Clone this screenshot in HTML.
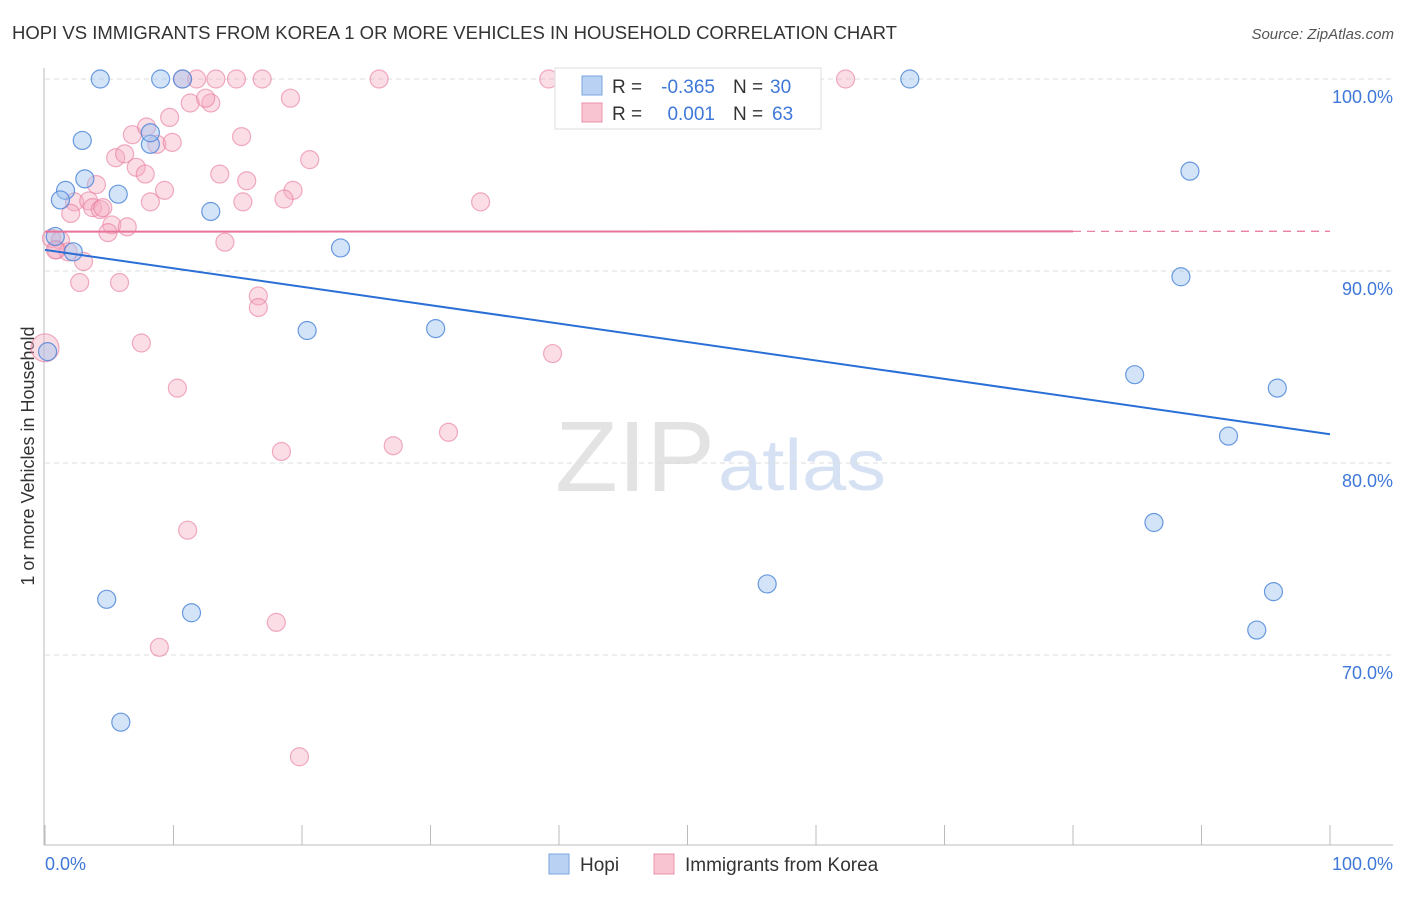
<!DOCTYPE html>
<html><head><meta charset="utf-8"><style>
body{margin:0;background:#fff;font-family:"Liberation Sans",sans-serif}
svg text{font-family:"Liberation Sans",sans-serif}
</style></head><body>
<svg id="c" width="1406" height="892">
<text x="12" y="39" font-size="18" fill="#333" textLength="885" lengthAdjust="spacingAndGlyphs">HOPI VS IMMIGRANTS FROM KOREA 1 OR MORE VEHICLES IN HOUSEHOLD CORRELATION CHART</text>
<text x="1394" y="39" font-size="15" fill="#555" font-style="italic" text-anchor="end">Source: ZipAtlas.com</text>
<text x="555" y="491" font-size="100" fill="#e3e3e3" textLength="160" lengthAdjust="spacingAndGlyphs" font-family="Liberation Serif">ZIP</text>
<text x="718" y="490" font-size="72" fill="#d6e2f3" textLength="168" lengthAdjust="spacingAndGlyphs">atlas</text>
<text transform="translate(34,456) rotate(-90)" font-size="18" fill="#333" text-anchor="middle">1 or more Vehicles in Household</text>
<g id="grid"></g><g id="pts"></g><g id="lines"></g>
<g>
<rect x="555" y="68" width="266" height="61" fill="#fff" stroke="#ddd"/>
<rect x="582" y="76" width="20" height="19" fill="#b9d2f3" stroke="#7aa3dd"/>
<rect x="582" y="103" width="20" height="19" fill="#f9c4d2" stroke="#ea8fab"/>
<text x="612" y="93" font-size="19" fill="#333">R =</text>
<text x="715" y="93" font-size="19" fill="#3f78d8" text-anchor="end">-0.365</text>
<text x="733" y="93" font-size="19" fill="#333">N =</text>
<text x="770" y="93" font-size="19" fill="#3f78d8">30</text>
<text x="612" y="120" font-size="19" fill="#333">R =</text>
<text x="715" y="120" font-size="19" fill="#3f78d8" text-anchor="end">0.001</text>
<text x="733" y="120" font-size="19" fill="#333">N =</text>
<text x="772" y="120" font-size="19" fill="#3f78d8">63</text>
</g>
<g>
<rect x="549" y="854" width="20" height="20" fill="#b9d2f3" stroke="#7aa3dd"/>
<text x="580" y="871" font-size="19" fill="#333">Hopi</text>
<rect x="654" y="854" width="20" height="20" fill="#f9c4d2" stroke="#ea8fab"/>
<text x="685" y="871" font-size="19" fill="#333">Immigrants from Korea</text>
</g>
<text x="45" y="870" font-size="18" fill="#3f78d8">0.0%</text>
<text x="1393" y="870" font-size="18" fill="#3f78d8" text-anchor="end">100.0%</text>
</svg>
<script>
const yTicks=[100,90,80,70];
const xTicks=[0,10,20,30,40,50,60,70,80,90,100];
const hopiX=[4.3,9.0,10.7,67.3,2.9,8.2,8.2,3.1,1.6,1.2,5.7,12.9,0.8,2.2,0.2,23.0,20.4,30.4,89.1,88.4,84.8,95.9,92.1,86.3,56.2,95.6,94.3,4.8,11.4,5.9];
const hopiY=[100,100,100,100,96.8,96.6,97.2,94.8,94.2,93.7,94.0,93.1,91.8,91.0,85.8,91.2,86.9,87.0,95.2,89.7,84.6,83.9,81.4,76.9,73.7,73.3,71.3,72.9,72.2,66.5];
const koreaX=[10.7,11.8,13.3,14.9,16.9,26.0,39.2,62.3,11.3,12.9,12.5,19.1,9.7,15.3,6.8,7.9,8.7,9.9,5.5,6.2,7.1,7.8,9.3,8.2,13.6,15.7,15.4,20.6,19.3,18.6,4.0,2.3,3.4,3.7,4.3,4.5,2.0,5.2,6.4,4.9,33.9,14.0,0.5,1.2,0.9,1.8,3.0,2.7,5.8,16.6,16.6,0,7.5,39.5,10.3,31.4,27.1,18.4,11.1,18.0,8.9,19.8,0.8];
const koreaY=[100,100,100,100,100,100,100,100,98.75,98.75,99.0,99.0,98.0,97.0,97.1,97.5,96.6,96.7,95.9,96.1,95.4,95.05,94.2,93.6,95.05,94.7,93.6,95.8,94.2,93.75,94.5,93.6,93.65,93.3,93.2,93.3,93.0,92.4,92.3,92.0,93.6,91.5,91.7,91.6,91.1,91.0,90.5,89.4,89.4,88.7,88.1,86.0,86.25,85.7,83.9,81.6,80.9,80.6,76.5,71.7,70.4,64.7,91.1];
const hopiTrend=[91.1,81.5];
const koreaTrend=[92.05,92.07];
const X=v=>45+v*12.85, Y=v=>79+(100-v)*19.2;
const NS='http://www.w3.org/2000/svg';
function mk(t,a,p){const e=document.createElementNS(NS,t);for(const k in a)e.setAttribute(k,a[k]);p.appendChild(e);return e;}
const g=document.getElementById('grid');
yTicks.forEach(t=>{
const l=mk('line',{x1:45,x2:1393,y1:Y(t),y2:Y(t),stroke:'#ddd','stroke-dasharray':'5,4'},g);


const tx=mk('text',{x:1393,y:Y(t)+24,'font-size':18,fill:'#3f78d8','text-anchor':'end'},g);
tx.textContent=t.toFixed(1)+'%';


});
mk('line',{x1:44,x2:44,y1:68,y2:845,stroke:'#bbb'},g);
mk('line',{x1:44,x2:1393,y1:845,y2:845,stroke:'#bbb'},g);
xTicks.forEach(t=>{
const l=mk('line',{x1:X(t),x2:X(t),y1:825,y2:845,stroke:'#bbb'},g);


});
const p=document.getElementById('pts');
koreaX.forEach((v,i)=>{
const big=(v===0);
const c=mk('circle',{cx:X(v),cy:Y(koreaY[i]),r:big?14:9,fill:'rgba(246,170,192,0.4)',stroke:'rgba(232,120,155,0.6)','stroke-width':1.2},p);


});
hopiX.forEach((v,i)=>{
const c=mk('circle',{cx:X(v),cy:Y(hopiY[i]),r:9,fill:'rgba(160,195,240,0.45)',stroke:'rgba(70,130,215,0.8)','stroke-width':1.2},p);


});
const L=document.getElementById('lines');
const hl=mk('line',{x1:X(0),y1:Y(hopiTrend[0]),x2:X(100),y2:Y(hopiTrend[1]),stroke:'#2a6fd6','stroke-width':2},L);


const ky=t=>koreaTrend[0]+(koreaTrend[1]-koreaTrend[0])*t/100;
const kl=mk('line',{x1:X(0),y1:Y(ky(0)),x2:X(80),y2:Y(ky(80)),stroke:'#e8739a','stroke-width':2},L);


const kd=mk('line',{x1:X(80),y1:Y(ky(80)),x2:X(100),y2:Y(ky(100)),stroke:'#e8739a','stroke-width':1.2,'stroke-dasharray':'8,6'},L);


</script>
</body></html>
